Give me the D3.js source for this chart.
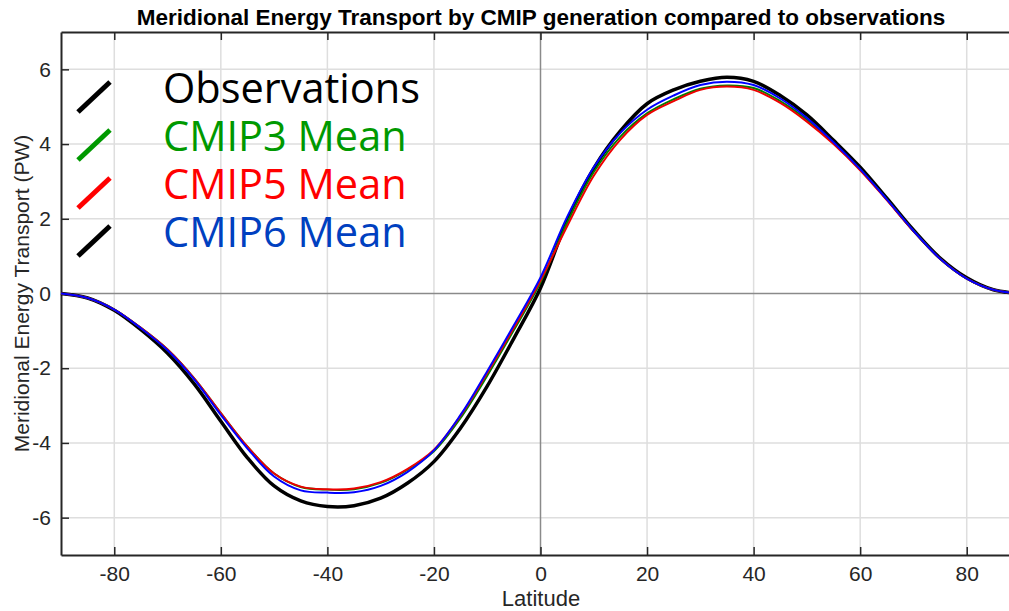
<!DOCTYPE html>
<html>
<head>
<meta charset="utf-8">
<script src="https://d3js.org/d3.v7.min.js"></script>
<style>
  body { margin: 0; background: #fff; }
</style>
</head>
<body>
<div id="chart"></div>
<script>
// latitudes (deg) shared by all series
var latitudes = [-90, -85, -80, -75, -70, -65, -60, -55, -50, -45, -40, -35, -30, -25, -20, -15, -10, -5,
  0, 5, 10, 15, 20, 25, 30, 35, 40, 45, 50, 55, 60, 65, 70, 75, 80, 85, 90];

// meridional energy transport (PW)
var observations = [0, -0.12, -0.45, -0.97, -1.6, -2.42, -3.42, -4.4, -5.15, -5.55, -5.7, -5.68, -5.48, -5.08, -4.5, -3.6, -2.48, -1.2,
  0.15, 1.95, 3.35, 4.35, 5.08, 5.45, 5.68, 5.79, 5.68, 5.3, 4.78, 4.1, 3.38, 2.55, 1.7, 0.95, 0.42, 0.1, 0];
var cmip3 = [0, -0.12, -0.43, -0.92, -1.5, -2.27, -3.2, -4.1, -4.82, -5.18, -5.25, -5.24, -5.07, -4.72, -4.22, -3.33, -2.2, -0.98,
  0.3, 1.9, 3.25, 4.2, 4.82, 5.2, 5.48, 5.57, 5.5, 5.15, 4.65, 4.02, 3.32, 2.52, 1.68, 0.93, 0.4, 0.1, 0];
var cmip5 = [0, -0.12, -0.43, -0.92, -1.5, -2.27, -3.2, -4.1, -4.82, -5.17, -5.24, -5.22, -5.05, -4.7, -4.18, -3.27, -2.13, -0.92,
  0.35, 1.8, 3.15, 4.12, 4.78, 5.15, 5.45, 5.54, 5.45, 5.1, 4.6, 4.0, 3.3, 2.5, 1.67, 0.93, 0.4, 0.1, 0];
var cmip6 = [0, -0.12, -0.43, -0.93, -1.52, -2.3, -3.25, -4.15, -4.9, -5.27, -5.33, -5.32, -5.15, -4.78, -4.2, -3.25, -2.08, -0.85,
  0.43, 2.05, 3.38, 4.3, 4.92, 5.3, 5.58, 5.67, 5.58, 5.22, 4.7, 4.05, 3.33, 2.52, 1.68, 0.93, 0.4, 0.1, 0];

var legendLabels = ["Observations", "CMIP3 Mean", "CMIP5 Mean", "CMIP6 Mean"];
var xTicks = [-80, -60, -40, -20, 0, 20, 40, 60, 80];
var yTicks = [-6, -4, -2, 0, 2, 4, 6];

// set the dimensions and margins of the graph
var svgWidth = 1009, svgHeight = 611;
var margin = { top: 32, right: -11, bottom: 56, left: 61 },
  width = svgWidth - margin.left - margin.right,
  height = svgHeight - margin.top - margin.bottom;

var svg = d3
  .select("#chart")
  .append("svg")
  .attr("width", svgWidth)
  .attr("height", svgHeight)
  .style("font-family", "'Liberation Sans', Arial, sans-serif");

var g = svg.append("g")
  .attr("transform", "translate(" + margin.left + "," + margin.top + ")");

var x = d3.scaleLinear().domain([-90, 90]).range([0, width]);
var y = d3.scaleLinear().domain([-7, 7]).range([height, 0]);

// grid lines
g.append("g")
  .selectAll("line")
  .data(xTicks.filter(function (d) { return d !== 0; }))
  .join("line")
  .attr("x1", function (d) { return x(d); })
  .attr("x2", function (d) { return x(d); })
  .attr("y1", 0)
  .attr("y2", height)
  .attr("stroke", "#dedede")
  .attr("stroke-width", 1.5);
g.append("g")
  .selectAll("line")
  .data(yTicks.filter(function (d) { return d !== 0; }))
  .join("line")
  .attr("x1", 0)
  .attr("x2", width)
  .attr("y1", function (d) { return y(d); })
  .attr("y2", function (d) { return y(d); })
  .attr("stroke", "#dedede")
  .attr("stroke-width", 1.5);

// zero lines
g.append("line")
  .attr("x1", x(0)).attr("x2", x(0))
  .attr("y1", 0).attr("y2", height)
  .attr("stroke", "#8a8a8a").attr("stroke-width", 1.5);
g.append("line")
  .attr("x1", 0).attr("x2", width)
  .attr("y1", y(0)).attr("y2", y(0))
  .attr("stroke", "#8a8a8a").attr("stroke-width", 1.5);

// axes (ticks point inwards like matlab), plain hyphen minus
var fmt = function (d) { return String(d); };
var xAxis = g.append("g")
  .attr("transform", "translate(0," + height + ")")
  .call(d3.axisBottom(x).tickValues(xTicks).tickFormat(fmt).tickSizeInner(-8).tickSizeOuter(0).tickPadding(11));
var xAxisTop = g.append("g")
  .call(d3.axisTop(x).tickValues(xTicks).tickSizeInner(-8).tickSizeOuter(0).tickFormat(""));
var yAxis = g.append("g")
  .call(d3.axisLeft(y).tickValues(yTicks).tickFormat(fmt).tickSizeInner(-8).tickSizeOuter(0).tickPadding(10));

[xAxis, xAxisTop, yAxis].forEach(function (ax) {
  ax.select(".domain").attr("stroke", "#262626").attr("stroke-width", 2);
  ax.selectAll(".tick line").attr("stroke", "#262626").attr("stroke-width", 1.5);
  ax.selectAll("text")
    .attr("fill", "#262626")
    .style("font-family", "'Liberation Sans', Arial, sans-serif")
    .style("font-size", "21px");
});
xAxis.selectAll("text").attr("dy", "0.71em");

// series lines
var line = d3.line()
  .x(function (d) { return x(d[0]); })
  .y(function (d) { return y(d[1]); })
  .curve(d3.curveCatmullRom.alpha(0.5));

var series = [
  { values: observations, color: "#000000", width: 3.5 },
  { values: cmip3, color: "#008000", width: 2 },
  { values: cmip5, color: "#ee0000", width: 2 },
  { values: cmip6, color: "#0000ff", width: 2 }
];

g.append("g")
  .selectAll("path")
  .data(series)
  .join("path")
  .attr("d", function (s) {
    return line(latitudes.map(function (lat, i) { return [lat, s.values[i]]; }));
  })
  .attr("fill", "none")
  .attr("stroke", function (s) { return s.color; })
  .attr("stroke-width", function (s) { return s.width; })
  .attr("stroke-linejoin", "round");

// legend: slanted line swatches + big coloured labels
var legendSwatch = ["#000000", "#009900", "#ff0000", "#000000"];
var legendText = ["#000000", "#009900", "#ff0000", "#0040c0"];
var legend = svg.append("g");
legendLabels.forEach(function (label, i) {
  var by = 103 + i * 48;
  legend.append("line")
    .attr("x1", 78).attr("y1", by + 9)
    .attr("x2", 110).attr("y2", by - 21)
    .attr("stroke", legendSwatch[i])
    .attr("stroke-width", 5);
  legend.append("text")
    .attr("x", 163)
    .attr("y", by)
    .attr("fill", legendText[i])
    .style("font-family", "'Open Sans', sans-serif")
    .style("font-size", "41.5px")
    .text(label);
});

// title and axis labels
svg.append("text")
  .attr("x", 541)
  .attr("y", 25)
  .attr("text-anchor", "middle")
  .style("font-weight", "bold")
  .style("font-size", "22.5px")
  .attr("fill", "#000")
  .text("Meridional Energy Transport by CMIP generation compared to observations");

svg.append("text")
  .attr("x", 541)
  .attr("y", 606)
  .attr("text-anchor", "middle")
  .style("font-size", "22px")
  .attr("fill", "#262626")
  .text("Latitude");

svg.append("text")
  .attr("transform", "translate(29," + (margin.top + y(0)) + ") rotate(-90)")
  .attr("text-anchor", "middle")
  .style("font-size", "21px")
  .attr("fill", "#262626")
  .text("Meridional Energy Transport (PW)");
</script>
</body>
</html>
